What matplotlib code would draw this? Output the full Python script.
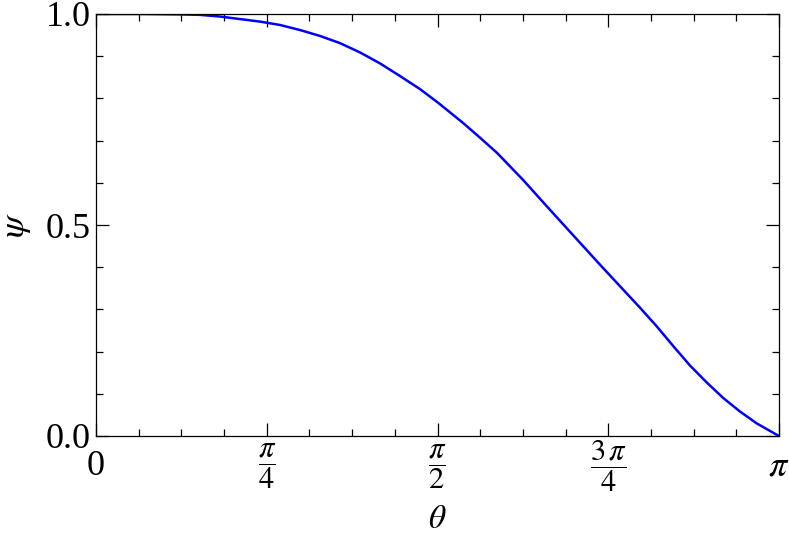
import numpy as np
import matplotlib
matplotlib.use("Agg")
import matplotlib.pyplot as plt
from matplotlib.ticker import MultipleLocator

plt.rcParams['font.family'] = ['Liberation Serif', 'DejaVu Serif']
plt.rcParams['mathtext.fontset'] = 'stix'

# curve: theta in units of pi, psi
theta_over_pi = [0.0, 0.0644, 0.123, 0.152, 0.1816, 0.2108, 0.2401, 0.2694,
                 0.2987, 0.328, 0.3572, 0.3865, 0.4158, 0.4451, 0.4744, 0.5007,
                 0.5373, 0.5622, 0.5871, 0.6252, 0.6647, 0.7013, 0.7379, 0.7672,
                 0.7965, 0.8209, 0.8452, 0.8697, 0.8941, 0.9184, 0.9429, 0.9673,
                 0.9868, 1.0]
psi = [1.0, 1.0, 0.999, 0.998, 0.994, 0.988, 0.982, 0.974,
       0.962, 0.948, 0.931, 0.909, 0.883, 0.853, 0.822, 0.790,
       0.742, 0.707, 0.671, 0.607, 0.536, 0.471, 0.406, 0.355,
       0.304, 0.260, 0.213, 0.167, 0.127, 0.090, 0.058, 0.030,
       0.012, 0.0]

xtick_pos = [0, 0.25, 0.5, 0.75, 1.0]
xtick_labels = ['0', r'$\dfrac{\pi}{4}$', r'$\dfrac{\pi}{2}$', r'$\dfrac{3\,\pi}{4}$', r'$\pi$']
ytick_pos = [0.0, 0.5, 1.0]
ytick_labels = ['0.0', '0.5', '1.0']

theta = np.array(theta_over_pi) * np.pi

fig = plt.figure(figsize=(7.89, 5.35), dpi=100)
ax = fig.add_axes([96 / 789, 99 / 535, 683 / 789, 422 / 535])

ax.plot(theta, psi, color='#0000ff', lw=1.8, solid_joinstyle='round')

ax.set_xlim(0, np.pi)
ax.set_ylim(0, 1)

ax.set_xticks(np.array(xtick_pos) * np.pi)
ax.set_xticklabels(xtick_labels)
ax.xaxis.set_minor_locator(MultipleLocator(np.pi / 16))
ax.set_yticks(ytick_pos)
ax.set_yticklabels(ytick_labels)
ax.yaxis.set_minor_locator(MultipleLocator(0.1))

ax.tick_params(which='both', direction='in', top=True, right=True, width=0.9)
ax.tick_params(which='major', length=9.5)
ax.tick_params(which='minor', length=5)
ax.tick_params(axis='y', labelsize=26, pad=4)
ax.tick_params(axis='x', labelsize=26, pad=22)
for i, lab in enumerate(ax.get_xticklabels()):
    lab.set_va('center')
    if i in (1, 2, 3):
        lab.set_fontsize(22)

for s in ax.spines.values():
    s.set_linewidth(0.9)

ax.set_xlabel(r'$\theta$', fontsize=24)
ax.xaxis.set_label_coords(0.5, -0.163)
ax.set_ylabel(r'$\psi$', fontsize=26)
ax.yaxis.set_label_coords(-0.092, 0.5)

fig.savefig("out.png", dpi=100)
plt.close(fig)
